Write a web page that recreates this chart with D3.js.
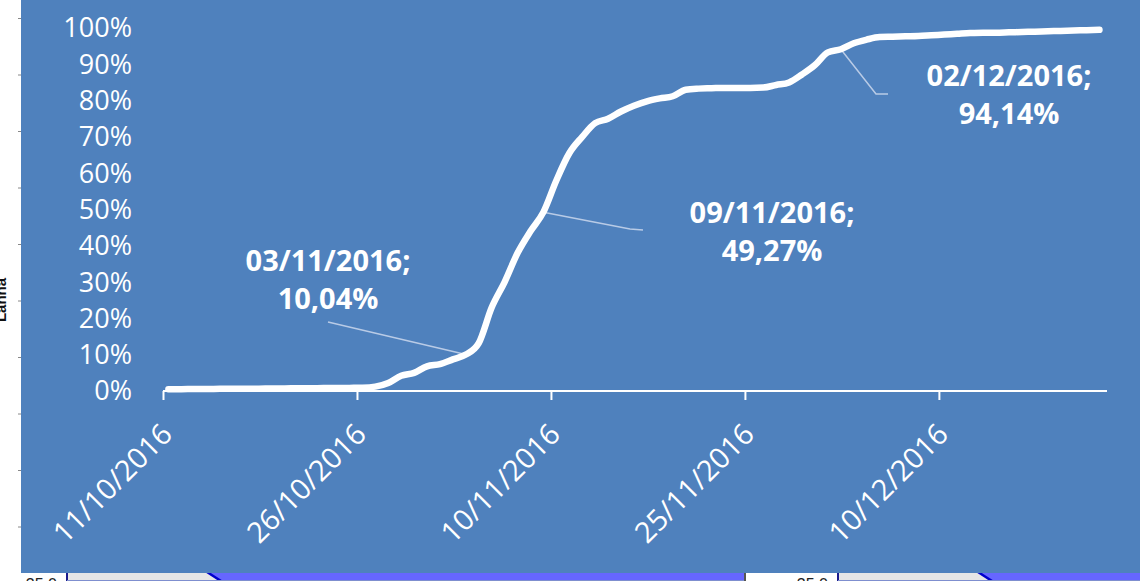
<!DOCTYPE html>
<html>
<head>
<meta charset="utf-8">
<script src="https://cdn.jsdelivr.net/npm/d3@7"></script>
<style>
  html, body { margin: 0; padding: 0; background: #fff; }
  svg { display: block; }
  text { font-family: "Open Sans", sans-serif; }
</style>
</head>
<body>
<div id="chart"></div>
<script>
// cumulative share per day (%)
var days = ["11/10/2016","12/10/2016","13/10/2016","14/10/2016","15/10/2016","16/10/2016","17/10/2016",
  "18/10/2016","19/10/2016","20/10/2016","21/10/2016","22/10/2016","23/10/2016","24/10/2016","25/10/2016",
  "26/10/2016","27/10/2016","28/10/2016","29/10/2016","30/10/2016","31/10/2016","01/11/2016","02/11/2016",
  "03/11/2016","04/11/2016","05/11/2016","06/11/2016","07/11/2016","08/11/2016","09/11/2016","10/11/2016",
  "11/11/2016","12/11/2016","13/11/2016","14/11/2016","15/11/2016","16/11/2016","17/11/2016","18/11/2016",
  "19/11/2016","20/11/2016","21/11/2016","22/11/2016","23/11/2016","24/11/2016","25/11/2016","26/11/2016",
  "27/11/2016","28/11/2016","29/11/2016","30/11/2016","01/12/2016","02/12/2016","03/12/2016","04/12/2016",
  "05/12/2016","06/12/2016","07/12/2016","08/12/2016","09/12/2016","10/12/2016","11/12/2016","12/12/2016",
  "13/12/2016","14/12/2016","15/12/2016","16/12/2016","17/12/2016","18/12/2016","19/12/2016","20/12/2016",
  "21/12/2016","22/12/2016"];
var share = [0.5,0.5,0.55,0.55,0.6,0.6,0.65,
  0.65,0.7,0.7,0.75,0.75,0.8,0.8,0.85,
  0.9,1.2,2.2,4.2,5.0,6.8,7.4,8.7,
  10.04,13.2,23,30,38,44,49.27,58,
  65.5,70,73.8,75,77,78.6,79.8,80.6,
  81.2,83.0,83.3,83.4,83.5,83.5,83.5,83.6,
  84.3,85.0,87.2,89.8,93.3,94.14,95.8,96.8,
  97.5,97.6,97.7,97.8,98.0,98.2,98.4,98.6,
  98.7,98.7,98.8,98.9,99.0,99.1,99.2,99.3,
  99.4,99.5];

var xTicks = ["11/10/2016","26/10/2016","10/11/2016","25/11/2016","10/12/2016"];
var yTicks = [0,10,20,30,40,50,60,70,80,90,100];

// labelled points: date, text lines
var callouts = [
  {day: "03/11/2016", lines: ["03/11/2016;", "10,04%"]},
  {day: "09/11/2016", lines: ["09/11/2016;", "49,27%"]},
  {day: "02/12/2016", lines: ["02/12/2016;", "94,14%"]}
];

var W = 1140, H = 581;
var parse = d3.timeParse("%d/%m/%Y");

var svg = d3.select("#chart").append("svg")
  .attr("width", W)
  .attr("height", H);

// bits of neighbouring charts peeking out under the panel
var under = svg.append("g");
[[0, 745], [760, 1140]].forEach(function(p, i){
  var x0 = i == 0 ? 67 : 838;
  var slope = i == 0 ? 207 : 978;
  under.append("text").attr("x", x0 - 10).attr("y", 590)
    .attr("text-anchor", "end").style("font-family", "Liberation Sans, Arial")
    .style("font-size", "16px").attr("fill", "#222").text("35.0");
  under.append("rect").attr("x", x0).attr("y", 572).attr("width", p[1] - x0).attr("height", 8)
    .attr("fill", "#e6e6e6");
  under.append("path")
    .attr("d", "M" + slope + ",572L" + (slope + 14) + ",581L" + p[1] + ",581L" + p[1] + ",572Z")
    .attr("fill", "#6666ff");
  under.append("path")
    .attr("d", "M" + slope + ",572L" + (slope + 14) + ",581")
    .attr("stroke", "#0000cc").attr("stroke-width", 2.5).attr("fill", "none");
  under.append("line").attr("x1", x0).attr("x2", x0).attr("y1", 572).attr("y2", 581)
    .attr("stroke", "#1a1a8c").attr("stroke-width", 2);
  under.append("line").attr("x1", x0).attr("x2", p[1]).attr("y1", 580.5).attr("y2", 580.5)
    .attr("stroke", "#7f8fcf").attr("stroke-width", 1);
});
under.append("line").attr("x1", 745).attr("x2", 745).attr("y1", 572).attr("y2", 581)
  .attr("stroke", "#555").attr("stroke-width", 2);

// left strip: cut-off axis title and ticks of the chart behind
svg.append("text")
  .attr("transform", "translate(6,300) rotate(-90)")
  .attr("text-anchor", "middle")
  .style("font-family", "Liberation Sans, Arial").style("font-weight", "bold")
  .style("font-size", "15px").attr("fill", "#111")
  .text("Lanna");
svg.append("g").selectAll("line")
  .data(d3.range(0, 10))
  .enter().append("line")
  .attr("x1", 18).attr("x2", 21)
  .attr("y1", d => 18.5 + d * 56.5).attr("y2", d => 18.5 + d * 56.5)
  .attr("stroke", "#888").attr("stroke-width", 1);

// panel
svg.append("rect")
  .attr("x", 21).attr("y", 0)
  .attr("width", W - 21).attr("height", 573)
  .attr("fill", "#4f81bd");

var x = d3.scaleTime()
  .domain([parse("11/10/2016"), parse("23/12/2016")])
  .range([163, 1107]);
var y = d3.scaleLinear()
  .domain([0, 100])
  .range([391, 28]);

// points sit a little after midnight on the date axis
function px(s){ return x(d3.timeHour.offset(parse(s), 10)); }

var data = days.map(function(d, i){ return {day: d, v: share[i]}; });

// y labels
svg.append("g").selectAll("text")
  .data(yTicks)
  .enter().append("text")
  .attr("x", 132)
  .attr("y", d => y(d))
  .attr("dy", "0.35em")
  .attr("text-anchor", "end")
  .attr("fill", "#fff")
  .style("font-size", "27px")
  .text(d => d + "%");

// x axis
var xAxis = svg.append("g")
  .attr("transform", "translate(0,391)")
  .call(d3.axisBottom(x)
    .tickValues(xTicks.map(parse))
    .tickSize(9)
    .tickFormat(""));
xAxis.select(".domain").attr("stroke", "#fff").attr("stroke-width", 2)
  .attr("d", "M" + x.range()[0] + ",0H" + x.range()[1]);
xAxis.selectAll(".tick line").attr("stroke", "#fff").attr("stroke-width", 2);

svg.append("g").selectAll("text")
  .data(xTicks)
  .enter().append("text")
  .attr("transform", d => "translate(" + (x(parse(d)) + 11) + ",436) rotate(-45)")
  .attr("text-anchor", "end")
  .attr("fill", "#fff")
  .style("font-size", "29px")
  .text(d => d);

// leader lines
var leaders = [
  [[328, 322]],
  [[630, 229], [643, 230]],
  [[876, 94], [888, 94]]
];
callouts.forEach(function(c, i){
  var v = share[days.indexOf(c.day)];
  var pts = [[px(c.day), y(v)]].concat(leaders[i]);
  svg.append("path")
    .attr("d", d3.line()(pts))
    .attr("fill", "none")
    .attr("stroke", "#b9cbe6")
    .attr("stroke-width", 1.5);
});

// the line
var line = d3.line()
  .x(d => px(d.day))
  .y(d => y(d.v))
  .curve(d3.curveMonotoneX);

svg.append("path")
  .datum(data)
  .attr("d", line)
  .attr("fill", "none")
  .attr("stroke", "#fff")
  .attr("stroke-width", 6.5)
  .attr("stroke-linejoin", "round")
  .attr("stroke-linecap", "round");

// callout labels
var labelPos = [[328, 271], [772, 223], [1009, 86]];
callouts.forEach(function(c, i){
  var t = svg.append("text")
    .attr("text-anchor", "middle")
    .attr("fill", "#fff")
    .style("font-size", "29px")
    .style("font-weight", "bold");
  c.lines.forEach(function(l, j){
    t.append("tspan")
      .attr("x", labelPos[i][0])
      .attr("y", labelPos[i][1] + j * 38)
      .text(l);
  });
});
</script>
</body>
</html>
